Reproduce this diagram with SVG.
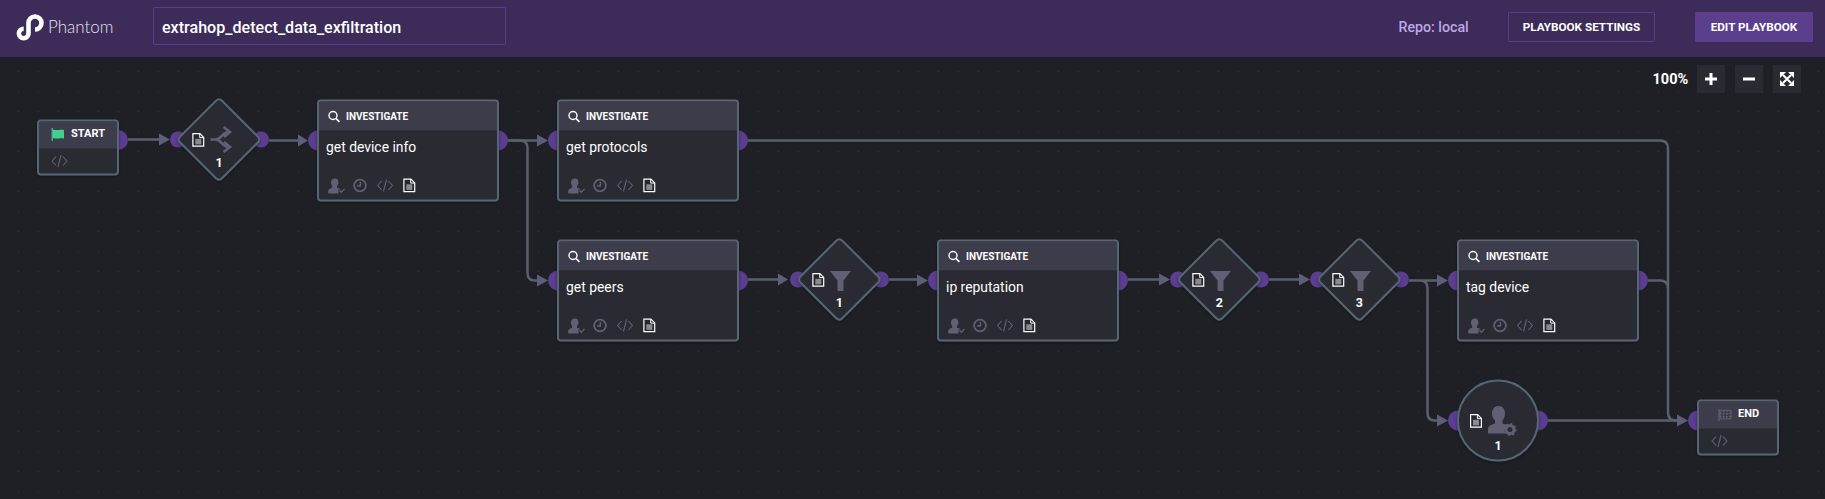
<svg xmlns="http://www.w3.org/2000/svg" width="1825" height="499" viewBox="0 0 1825 499">
<style>
text{font-family:Roboto,"Liberation Sans",sans-serif;fill:#fff}
.node{fill:#2a2a33;stroke:#566573;stroke-width:2}
.head{fill:#3d3c4b}
.port{fill:#5b3d91}
.conn{fill:none;stroke:#5a5f6e;stroke-width:2.500;stroke-linejoin:round}
.arrow{fill:#5d5f7a}
.ht{font-size:10px;font-weight:700}
.ft{font-size:11px;font-weight:700}
.lbl{font-size:13.900px}
.num{font-size:12.500px;font-weight:700;text-anchor:middle}
.g{fill:#625f74}
.sh{filter:url(#shadow)}
</style>
<defs>
<filter id="shadow" x="-20%" y="-20%" width="140%" height="140%"><feDropShadow dx="0" dy="1" stdDeviation="1.500" flood-color="#000" flood-opacity=".45"/></filter>
<pattern id="dots" width="20" height="20" patternUnits="userSpaceOnUse" x="8" y="1"><rect x="10" y="10" width="1" height="1" fill="#34353c"/></pattern>
<symbol id="doc" width="12" height="14" viewBox="0 0 12 14" overflow="visible"><path d="M.6.6H7.6L11.4 4.4V13.200H.6Z" fill="#26262e" stroke="#fff" stroke-width="1.200"/><rect x="3" y="5.800" width="6" height="5.600" fill="#8a8a92"/><path d="M7.400.8V4.600H11.200" fill="none" stroke="#fff"/></symbol>
<symbol id="code" width="16" height="12" viewBox="0 0 16 12" overflow="visible"><path d="M4.600 1.500.6 6l4 4.500M11.400 1.500l4 4.500-4 4.500M9.600 0 6.400 12" fill="none" stroke="#625f74" stroke-width="1.100"/></symbol>
<symbol id="search" width="12" height="12" viewBox="0 0 12 12" overflow="visible"><circle cx="5" cy="5" r="4" fill="none" stroke="#fff" stroke-width="1.400"/><path d="M8 8l3.400 3.400" stroke="#fff" stroke-width="1.700"/></symbol>
<symbol id="usr" width="17" height="15" viewBox="0 0 17 15" overflow="visible"><path d="M7 0c2.300 0 3.400 1.700 3.400 3.800 0 1.600-.6 3-1.400 3.800v1.600c2 .5 3.300 1.100 3.600 1.900H10.500v3.900H.2v-2.400c0-1.600 2-2.600 4-3.300V7.600C3.400 6.800 3 5.400 3 3.800 3 1.700 4.700 0 7 0z" fill="#625f74"/><path d="M11.500 12l1.800 1.800L16.500 10.400" fill="none" stroke="#625f74" stroke-width="1.300"/></symbol>
<symbol id="clock" width="14" height="14" viewBox="0 0 14 14" overflow="visible"><circle cx="7" cy="7" r="5.900" fill="none" stroke="#625f74" stroke-width="1.800"/><path d="M7.400 3.400V7.600H4" fill="none" stroke="#625f74" stroke-width="1.500"/></symbol>
<symbol id="funnel" width="21" height="20" viewBox="0 0 21 20" overflow="visible"><path d="M0 0H21L13.500 9.500V20H7.500V9.500Z" fill="#625f74"/></symbol>
<g id="actionIcons"><use href="#usr" x="0" y="0"/><use href="#clock" x="25" y="0"/><use href="#code" x="49" y="1"/><use href="#doc" x="75.300" y="0"/></g>
<g id="investigate"><rect class="node sh" x="1" y="1" width="180" height="100" rx="3"/><path class="head" d="M2 4a2 2 0 0 1 2-2H178a2 2 0 0 1 2 2V30.700H2Z"/><use href="#search" x="11" y="11"/><text class="ht" x="29" y="20.500">INVESTIGATE</text><use href="#actionIcons" x="11" y="79"/></g>
<g id="diamond"><path class="node sh" d="M-3 -38.800Q0 -41.800 3 -38.800L38.800 -3Q41.800 0 38.800 3L3 38.800Q0 41.800 -3 38.800L-38.800 3Q-41.800 0 -38.800 -3Z"/></g>
</defs>
<rect width="1825" height="499" fill="#1f2025"/>
<rect width="1825" height="499" fill="url(#dots)"/>
<g id="header">
<rect width="1825" height="57" fill="#3d2b59"/>
<g id="logo" fill="none" stroke="#fff" stroke-width="4.600"><path d="M35 29.500a6.500 6.500 0 1 0-6.500-6.500V33.500a4.800 4.800 0 1 1-4.800-4.800"/></g>
<text x="48" y="33" style="font-family:Lato,sans-serif;font-weight:300;font-size:17px;fill:#e6e2ee">Phantom</text>
<rect x="153.500" y="7.500" width="352" height="37" rx="1" fill="none" stroke="#57408a"/>
<text x="162" y="33" style="font-size:16.100px;font-weight:500">extrahop_detect_data_exfiltration</text>
<text x="1398.500" y="32" style="font-size:14.200px;font-weight:500;fill:#bda7e8">Repo: local</text>
<rect x="1508.500" y="12.500" width="146" height="29" rx="1" fill="none" stroke="#57408a"/>
<text x="1581.500" y="31" text-anchor="middle" style="font-size:11.700px;font-weight:700">PLAYBOOK SETTINGS</text>
<rect x="1695" y="12" width="118" height="30" rx="1" fill="#5b3f8c"/>
<text x="1754" y="31" text-anchor="middle" style="font-size:11.700px;font-weight:700">EDIT PLAYBOOK</text>
</g>
<g id="zoom-controls">
<text x="1652.500" y="84" style="font-size:14.500px;font-weight:700">100%</text>
<rect x="1697" y="65" width="28" height="28" fill="#2a2a32"/><path d="M1711 73v12M1705 79h12" stroke="#fff" stroke-width="3"/>
<rect x="1735" y="65" width="28" height="28" fill="#2a2a32"/><path d="M1743 79h12" stroke="#fff" stroke-width="3"/>
<rect x="1773" y="65" width="28" height="28" fill="#2a2a32"/><path d="M1783 75l8 8M1791 75l-8 8" stroke="#fff" stroke-width="2"/><path d="M1780 72h6l-6 6ZM1794 72h-6l6 6ZM1780 86h6l-6-6ZM1794 86h-6l6-6Z" fill="#fff"/>
</g>
<g id="ports" class="port">
<circle cx="118" cy="140" r="10"/><circle cx="178" cy="139.500" r="8"/><circle cx="261" cy="139.500" r="8"/>
<circle cx="318" cy="140.500" r="10"/><circle cx="498" cy="140.500" r="10"/>
<circle cx="558" cy="140.500" r="10"/><circle cx="738" cy="140.500" r="10"/>
<circle cx="558" cy="280.500" r="10"/><circle cx="738" cy="280.500" r="10"/>
<circle cx="798" cy="279.500" r="8"/><circle cx="881" cy="279.500" r="8"/>
<circle cx="938" cy="280.500" r="10"/><circle cx="1118" cy="280.500" r="10"/>
<circle cx="1178" cy="279.500" r="8"/><circle cx="1261" cy="279.500" r="8"/>
<circle cx="1318" cy="279.500" r="8"/><circle cx="1401" cy="279.500" r="8"/>
<circle cx="1458" cy="280.500" r="10"/><circle cx="1638" cy="280.500" r="10"/>
<circle cx="1458" cy="420.500" r="10"/><circle cx="1538" cy="420.500" r="10"/>
<circle cx="1698" cy="420.500" r="10"/>
</g>
<g id="connectors">
<path class="conn" d="M128 139.500H160M269 140.500H298M508 140.500H538M748 140.500H1660Q1668 140.500 1668 148.500V412.500Q1668 420.500 1676 420.500H1678"/>
<path class="conn" d="M508 140.500H520Q527.500 140.500 527.500 148V273Q527.500 280.500 535 280.500H538"/>
<path class="conn" d="M748 279.500H778M889 279.500H918M1128 279.500H1160M1269 279.500H1300"/>
<path class="conn" d="M1409 280.500H1438M1409 280.500H1420Q1427.500 280.500 1427.500 288V413Q1427.500 420.500 1435 420.500H1438"/>
<path class="conn" d="M1648 280.500H1660Q1668 280.500 1668 288.500M1548 420.500H1678"/>
<g class="arrow">
<path d="M159 133.500L170 139.500L159 145.500Z"/><path d="M298 134.500L308 140.500L298 146.500Z"/><path d="M537 134.500L548 140.500L537 146.500Z"/><path d="M537 274.500L548 280.500L537 286.500Z"/>
<path d="M778 273.500L788 279.500L778 285.500Z"/><path d="M917 274.500L928 280.500L917 286.500Z"/><path d="M1159 273.500L1170 279.500L1159 285.500Z"/><path d="M1299 273.500L1310 279.500L1299 285.500Z"/>
<path d="M1437 274.500L1448 280.500L1437 286.500Z"/><path d="M1437 414.500L1448 420.500L1437 426.500Z"/><path d="M1677 414.500L1688 420.500L1677 426.500Z"/>
</g>
</g>
<g id="start">
<rect class="node sh" x="38" y="120.500" width="80" height="54" rx="3"/><path class="head" d="M39 123.500a2 2 0 0 1 2-2H115a2 2 0 0 1 2 2V148.500H39Z"/>
<path d="M52.200 128v13" stroke="#43d08e" stroke-width="1.200"/><path d="M53 129.500c3 1.500 6-.5 11 .5v8.500c-5-1-8 1-11-.5Z" fill="#43d08e"/>
<text class="ft" x="71" y="137">START</text>
<use href="#code" x="51.500" y="155"/>
</g>
<g id="decision-1" transform="translate(219 139.500)">
<use href="#diamond"/><use href="#doc" x="-26.700" y="-6.500"/>
<path d="M-8.500 0H-3C2 0 3-7 9-7.500M-3 0C2 0 3 7 9 7.500M4.500-12.500 11-7.500 5-2.500M4.500 12.500 11 7.500 5 2.500" fill="none" stroke="#625f74" stroke-width="2.600"/>
<text class="num" x="0" y="27">1</text>
</g>
<g id="get-device-info" transform="translate(317 99.500)"><use href="#investigate"/><text class="lbl" x="9" y="52.500">get device info</text></g>
<g id="get-protocols" transform="translate(557 99.500)"><use href="#investigate"/><text class="lbl" x="9" y="52.500">get protocols</text></g>
<g id="get-peers" transform="translate(557 239.500)"><use href="#investigate"/><text class="lbl" x="9" y="52.500">get peers</text></g>
<g id="filter-1" transform="translate(839.300 279.500)"><use href="#diamond"/><use href="#doc" x="-27" y="-6.500"/><use href="#funnel" x="-9.300" y="-8.500"/><text class="num" x="0" y="27">1</text></g>
<g id="ip-reputation" transform="translate(937 239.500)"><use href="#investigate"/><text class="lbl" x="9" y="52.500">ip reputation</text></g>
<g id="filter-2" transform="translate(1219.300 279.500)"><use href="#diamond"/><use href="#doc" x="-27" y="-6.500"/><use href="#funnel" x="-9.300" y="-8.500"/><text class="num" x="0" y="27">2</text></g>
<g id="filter-3" transform="translate(1359.300 279.500)"><use href="#diamond"/><use href="#doc" x="-27" y="-6.500"/><use href="#funnel" x="-9.300" y="-8.500"/><text class="num" x="0" y="27">3</text></g>
<g id="tag-device" transform="translate(1457 239.500)"><use href="#investigate"/><text class="lbl" x="9" y="52.500">tag device</text></g>
<g id="prompt-1">
<circle class="node sh" cx="1498" cy="420.500" r="40"/>
<use href="#doc" x="1470" y="414"/>
<path class="g" d="M1498.500 406c4.200 0 6.500 3 6.500 7.500 0 3-1 5.500-2.500 7v3c2 .5 3.500 1 4.500 1.700a8 8 0 0 0-2 8.300h-17v-4.500c0-3 3.500-4.500 7-5.500v-3c-1.500-1.500-3-4-3-7 0-4.500 2.500-7.500 6.500-7.500z"/>
<circle cx="1510" cy="429.500" r="4" fill="none" stroke="#625f74" stroke-width="3"/><circle cx="1510" cy="429.500" r="5.800" fill="none" stroke="#625f74" stroke-width="1.400" stroke-dasharray="2 2.500"/>
<text class="num" x="1498" y="450">1</text>
</g>
<g id="end">
<rect class="node sh" x="1698" y="400.500" width="80" height="54" rx="3"/><path class="head" d="M1699 403.500a2 2 0 0 1 2-2H1775a2 2 0 0 1 2 2V428.500H1699Z"/>
<path d="M1719 409v12" stroke="#625f74" stroke-width="1.200"/><path d="M1720 410c3 1.500 6-.5 11 .5v8.500c-5-1-8 1-11-.5Z" fill="none" stroke="#625f74" stroke-width="1"/><path d="M1720 413.500h11M1720 416.500h11M1723.500 410.500v8M1727 410.500v8" stroke="#625f74" stroke-width="1" stroke-dasharray="1.500 1.500"/>
<text class="ft" x="1738" y="417">END</text>
<use href="#code" x="1711.500" y="435"/>
</g>
</svg>
